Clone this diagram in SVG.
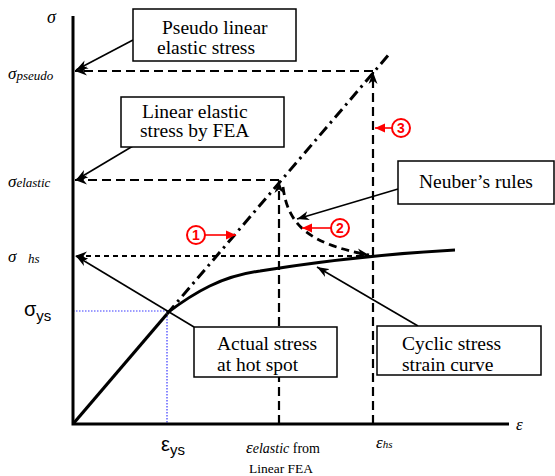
<svg xmlns="http://www.w3.org/2000/svg" width="555" height="476" viewBox="0 0 555 476">
<style>
.box{fill:#fff;stroke:#000;stroke-width:1.5}
.bt{font-family:"Liberation Serif",serif;font-size:19.5px;fill:#000}
.it{font-family:"Liberation Serif",serif;font-style:italic;fill:#000}
.sans{font-family:"Liberation Sans",sans-serif;fill:#000}
.axis{stroke:#000;stroke-width:3;fill:none}
.dl{stroke:#000;stroke-width:2.2;fill:none;stroke-dasharray:9,5}
.ds{stroke:#000;stroke-width:2;fill:none;stroke-dasharray:5,4}
.lead{stroke:#000;stroke-width:1.6;fill:none}
.red{stroke:#f00;stroke-width:1.6;fill:none}
.circ{fill:#fff;stroke:#f00;stroke-width:2}
.num{font-family:"Liberation Sans",sans-serif;font-size:14px;fill:#f00;font-weight:bold;text-anchor:middle}
</style>
<defs>
<marker id="ah" markerUnits="userSpaceOnUse" viewBox="0 0 13 10" refX="12" refY="5" markerWidth="13" markerHeight="10" orient="auto">
<path d="M0,0.5 L12,5 L0,9.5 L3.5,5 z" fill="#000"/>
</marker>
<marker id="ahr" markerUnits="userSpaceOnUse" viewBox="0 0 10 10" refX="10" refY="5" markerWidth="10" markerHeight="10" orient="auto">
<path d="M0,0.5 L10,5 L0,9.5 z" fill="#f00"/>
</marker>
</defs>

<g id="connectors">
<path d="M73,311 H167 V424" stroke="#3a3aff" stroke-width="1.2" stroke-dasharray="1.5,1.5" fill="none"/>
<path class="dl" d="M373,71 H75" marker-end="url(#ah)"/>
<path class="dl" d="M279,180 H75" marker-end="url(#ah)"/>
<path class="ds" d="M370,256 H75" marker-end="url(#ah)"/>
<path class="dl" d="M373,424 V72" marker-end="url(#ah)"/>
<path class="dl" d="M279,424 V181" marker-end="url(#ah)"/>
<path d="M167,314 L391,52" stroke="#000" stroke-width="3" fill="none" stroke-dasharray="11,5,2.5,5"/>
<path d="M73,424 L167,314" stroke="#000" stroke-width="3.2" fill="none"/>
<path d="M167,313 C195,292 222,276 260,271 C310,263 380,254 455,250" stroke="#000" stroke-width="3" fill="none"/>
<path d="M283,187 C288,226 310,244 369,255" stroke="#000" stroke-width="2.8" fill="none" stroke-dasharray="8,5" marker-end="url(#ah)"/>
<path class="lead" d="M133,40 L76,70" marker-end="url(#ah)"/>
<path class="lead" d="M133,146 L76,180" marker-end="url(#ah)"/>
<path class="lead" d="M194,327 L76,256" marker-end="url(#ah)"/>
<path class="lead" d="M418,326 L317,267" marker-end="url(#ah)"/>
<path class="lead" d="M398,189 L297,219" marker-end="url(#ah)"/>
<path class="red" d="M205,235 H236" marker-end="url(#ahr)"/>
<path class="red" d="M331,228 H302" marker-end="url(#ahr)"/>
<path class="red" d="M392,128 H375" marker-end="url(#ahr)"/>
<path class="axis" d="M73,16 V424 H509"/>
</g>

<g id="axis-labels">
<text class="it" x="47" y="23" font-size="18">σ</text>
<text class="it" x="8" y="79" font-size="17">σ<tspan font-size="13" dy="1">pseudo</tspan></text>
<text class="it" x="8" y="187" font-size="17">σ<tspan font-size="13">elastic</tspan></text>
<text class="it" x="8" y="262" font-size="17">σ<tspan font-size="13" x="28" dy="1">hs</tspan></text>
<text class="sans" x="24" y="316" font-size="20">σ<tspan font-size="15" dy="5">ys</tspan></text>
<text class="sans" x="161" y="451" font-size="20">ε<tspan font-size="15" dy="4">ys</tspan></text>
<text class="it" x="246" y="453" font-size="17">ε<tspan font-size="14">elastic</tspan><tspan font-style="normal" font-size="14"> from</tspan></text>
<text x="249" y="473" font-family="Liberation Serif,serif" font-size="13.5">Linear FEA</text>
<text class="it" x="376" y="448" font-size="17">ε<tspan font-size="11">hs</tspan></text>
<text class="it" x="516" y="430" font-size="17">ε</text>
</g>

<g id="marker-1"><circle class="circ" cx="196" cy="235" r="9"/><text class="num" x="196" y="240">1</text></g>
<g id="marker-2"><circle class="circ" cx="340" cy="228" r="9"/><text class="num" x="340" y="233">2</text></g>
<g id="marker-3"><circle class="circ" cx="401" cy="128" r="9"/><text class="num" x="401" y="133">3</text></g>

<g id="node-pseudo">
<rect class="box" x="133" y="9" width="163" height="52"/>
<text class="bt" x="162" y="34">Pseudo linear</text>
<text class="bt" x="157" y="54">elastic stress</text>
</g>
<g id="node-linear-fea">
<rect class="box" x="121" y="97" width="163" height="50"/>
<text class="bt" x="142" y="118">Linear elastic</text>
<text class="bt" x="140" y="137">stress by FEA</text>
</g>
<g id="node-neuber">
<rect class="box" x="398" y="161" width="156" height="43"/>
<text class="bt" x="419" y="188">Neuber’s rules</text>
</g>
<g id="node-actual">
<rect class="box" x="194" y="327" width="143" height="50"/>
<text class="bt" x="217" y="350">Actual stress</text>
<text class="bt" x="217" y="371">at hot spot</text>
</g>
<g id="node-cyclic">
<rect class="box" x="377" y="326" width="164" height="49"/>
<text class="bt" x="402" y="350">Cyclic stress</text>
<text class="bt" x="402" y="371">strain curve</text>
</g>
</svg>
